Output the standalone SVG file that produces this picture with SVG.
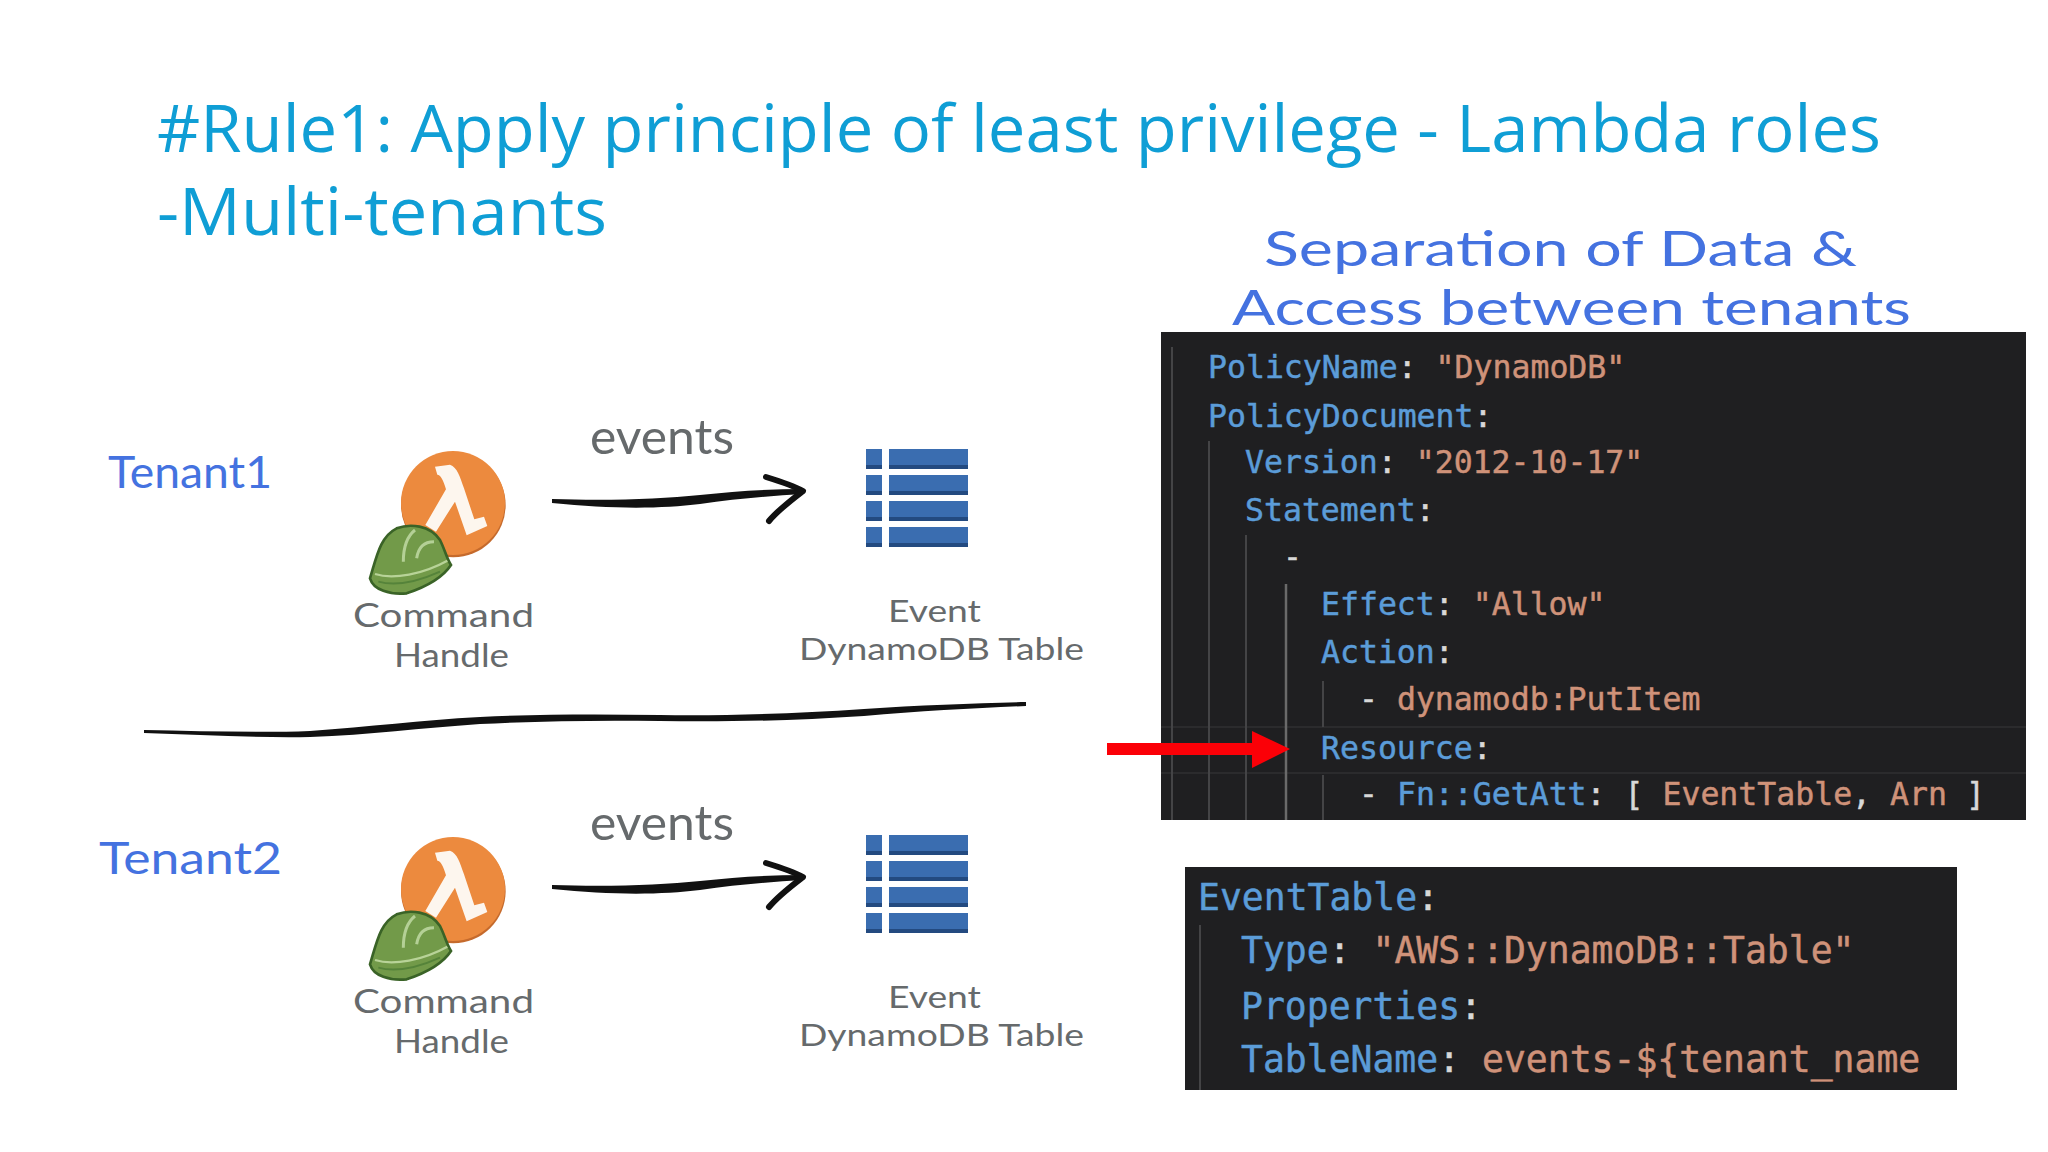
<svg xmlns="http://www.w3.org/2000/svg" width="2048" height="1152" viewBox="0 0 2048 1152">
<style>
.title{font-family:"Open Sans","Noto Sans",sans-serif;font-size:66px;fill:#0f9ed5}
.hand{font-family:"Lato","Noto Sans",sans-serif;font-weight:400;fill:#666a6c}
.blue{fill:#4472e0}
.code{font-family:"DejaVu Sans Mono","Liberation Mono",monospace;fill:#d8d8d8;stroke:#d8d8d8;stroke-width:.5px}
.c1{font-size:31.5px}.c2{font-size:36.4px}
.k{fill:#5b9cd8;stroke:#5b9cd8}.s{fill:#cf9279;stroke:#cf9279}
.guide{stroke:#444446;stroke-width:2;fill:none}
.guide2{stroke:#6a6a6a;stroke-width:2.5;fill:none}
.stroke{fill:#111;stroke:none}
.head{fill:none;stroke:#111;stroke-width:6;stroke-linecap:round;stroke-linejoin:round}
</style>
<defs>
<g id="lambda-icon" transform="translate(350 430) scale(.3333)">
<circle cx="310" cy="225" r="157" fill="#c56a2c"/>
<circle cx="309" cy="219" r="156" fill="#ec8a3e"/>
<path d="M255 110 L300 104 C322 112 330 140 342 175 L373 268 L402 260 L412 288 L350 316 L315 215 L258 305 L226 285 L288 178 C280 150 272 135 262 134 Z" fill="#fdf6ee"/>
<path d="M60 445 C80 380 90 320 140 295 C180 280 240 285 270 330 C285 360 290 385 303 405 C280 440 230 470 170 490 C120 495 70 480 60 445 Z" fill="#729a49" stroke="#3a6327" stroke-width="8"/>
<path d="M75 432 C130 450 220 432 292 392" fill="none" stroke="#b8d398" stroke-width="7"/>
<path d="M85 455 C140 470 210 452 270 425" fill="none" stroke="#55833a" stroke-width="6"/>
<path d="M160 395 C160 350 170 320 195 300" fill="none" stroke="#b4d096" stroke-width="9"/>
<path d="M200 385 C205 350 225 335 252 335" fill="none" stroke="#b4d096" stroke-width="9"/>
</g>
<g id="table-icon">
<g fill="#3a6db0">
<rect x="866" y="449" width="16" height="20"/><rect x="889" y="449" width="79" height="20"/>
<rect x="866" y="475" width="16" height="20"/><rect x="889" y="475" width="79" height="20"/>
<rect x="866" y="501" width="16" height="20"/><rect x="889" y="501" width="79" height="20"/>
<rect x="866" y="527" width="16" height="20"/><rect x="889" y="527" width="79" height="20"/>
</g>
<g fill="#234a80">
<rect x="866" y="465" width="16" height="4"/><rect x="889" y="465" width="79" height="4"/>
<rect x="866" y="491" width="16" height="4"/><rect x="889" y="491" width="79" height="4"/>
<rect x="866" y="517" width="16" height="4"/><rect x="889" y="517" width="79" height="4"/>
<rect x="866" y="543" width="16" height="4"/><rect x="889" y="543" width="79" height="4"/>
</g>
</g>
<g id="sketch-arrow">
<path class="stroke" d="M552 499 C610 501 660 499 700 495 C735 491 770 489 803 489 L803 494 C770 496 735 499 700 504 C660 509 610 509 552 503 Z"/>
<path class="head" d="M766 477 C782 482 794 486 803 491 C790 501 778 510 769 521"/>
</g>
</defs>
<rect width="2048" height="1152" fill="#fff"/>
<g id="title">
<text class="title" x="157" y="152" textLength="1724" lengthAdjust="spacingAndGlyphs">#Rule1: Apply principle of least privilege - Lambda roles</text>
<text class="title" x="157" y="235" textLength="450" lengthAdjust="spacingAndGlyphs">-Multi-tenants</text>
</g>
<g id="tenant1-label"><text class="hand blue" x="108" y="488" font-size="44" textLength="164" lengthAdjust="spacingAndGlyphs">Tenant1</text></g>
<g id="tenant1-command">
<use href="#lambda-icon"/>
<text class="hand" x="353" y="627" font-size="33" textLength="181" lengthAdjust="spacingAndGlyphs">Command</text>
<text class="hand" x="394" y="667" font-size="33" textLength="115" lengthAdjust="spacingAndGlyphs">Handle</text>
</g>
<g id="tenant1-events"><text class="hand" x="590" y="454" font-size="48" textLength="144" lengthAdjust="spacingAndGlyphs">events</text></g>
<g id="tenant1-table">
<use href="#table-icon"/>
<text class="hand" x="888" y="622" font-size="31" textLength="93" lengthAdjust="spacingAndGlyphs">Event</text>
<text class="hand" x="799" y="660" font-size="31" textLength="285" lengthAdjust="spacingAndGlyphs">DynamoDB Table</text>
</g>
<g id="tenant2-label"><text class="hand blue" x="99" y="874" font-size="44" textLength="183" lengthAdjust="spacingAndGlyphs">Tenant2</text></g>
<g id="tenant2-command">
<use href="#lambda-icon" y="386"/>
<text class="hand" x="353" y="1013" font-size="33" textLength="181" lengthAdjust="spacingAndGlyphs">Command</text>
<text class="hand" x="394" y="1053" font-size="33" textLength="115" lengthAdjust="spacingAndGlyphs">Handle</text>
</g>
<g id="tenant2-events"><text class="hand" x="590" y="840" font-size="48" textLength="144" lengthAdjust="spacingAndGlyphs">events</text></g>
<g id="tenant2-table">
<use href="#table-icon" y="386"/>
<text class="hand" x="888" y="1008" font-size="31" textLength="93" lengthAdjust="spacingAndGlyphs">Event</text>
<text class="hand" x="799" y="1046" font-size="31" textLength="285" lengthAdjust="spacingAndGlyphs">DynamoDB Table</text>
</g>
<g id="heading">
<text class="hand blue" x="1264" y="266" font-size="48" textLength="593" lengthAdjust="spacingAndGlyphs">Separation of Data &amp;</text>
<text class="hand blue" x="1232" y="325" font-size="48" textLength="679" lengthAdjust="spacingAndGlyphs">Access between tenants</text>
</g>
<g id="policy-panel">
<rect x="1161" y="332" width="865" height="488" fill="#1f1f21"/>
<path d="M1161 727 H2026 M1161 773 H2026" stroke="#2b2b2d" stroke-width="2"/>
<path class="guide" d="M1172 347 V820 M1209 441 V820 M1246 535 V820 M1323 681 V727 M1323 775 V820"/>
<path class="guide2" d="M1286 584 V820"/>
<g class="code c1">
<text x="1208" y="378"><tspan class="k">PolicyName</tspan>: <tspan class="s">"DynamoDB"</tspan></text>
<text x="1208" y="427"><tspan class="k">PolicyDocument</tspan>:</text>
<text x="1245" y="473"><tspan class="k">Version</tspan>: <tspan class="s">"2012-10-17"</tspan></text>
<text x="1245" y="521"><tspan class="k">Statement</tspan>:</text>
<text x="1283" y="568">-</text>
<text x="1321" y="615"><tspan class="k">Effect</tspan>: <tspan class="s">"Allow"</tspan></text>
<text x="1321" y="663"><tspan class="k">Action</tspan>:</text>
<text x="1359" y="710">- <tspan class="s">dynamodb:PutItem</tspan></text>
<text x="1321" y="759"><tspan class="k">Resource</tspan>:</text>
<text x="1359" y="805">- <tspan class="k">Fn::GetAtt</tspan>: [ <tspan class="s">EventTable</tspan>, <tspan class="s">Arn</tspan> ]</text>
</g>
</g>
<g id="table-panel">
<rect x="1185" y="867" width="772" height="223" fill="#1f1f21"/>
<path class="guide" d="M1200 925 V1090"/>
<g class="code c2">
<text x="1198" y="910"><tspan class="k">EventTable</tspan>:</text>
<text x="1241" y="963"><tspan class="k">Type</tspan>: <tspan class="s">"AWS::DynamoDB::Table"</tspan></text>
<text x="1241" y="1019"><tspan class="k">Properties</tspan>:</text>
<text x="1241" y="1072"><tspan class="k">TableName</tspan>: <tspan class="s">events-${tenant_name</tspan></text>
</g>
</g>
<g id="connectors">
<use href="#sketch-arrow"/>
<use href="#sketch-arrow" y="386"/>
<path class="stroke" d="M144 730 C200 731 260 733 310 731 C370 727 420 720 480 717 C540 714 600 714 660 715 C720 716 790 714 864 709 C920 705 980 703 1026 702 L1026 706 C980 708 920 711 864 716 C790 721 720 722 660 721 C600 720 540 721 480 724 C420 728 370 735 310 737 C260 738 200 735 144 733 Z"/>
<path id="red-arrow" fill="#fb0007" d="M1107 743 H1252 V731 L1290 749 L1252 768 V755 H1107 Z"/>
</g>
</svg>
